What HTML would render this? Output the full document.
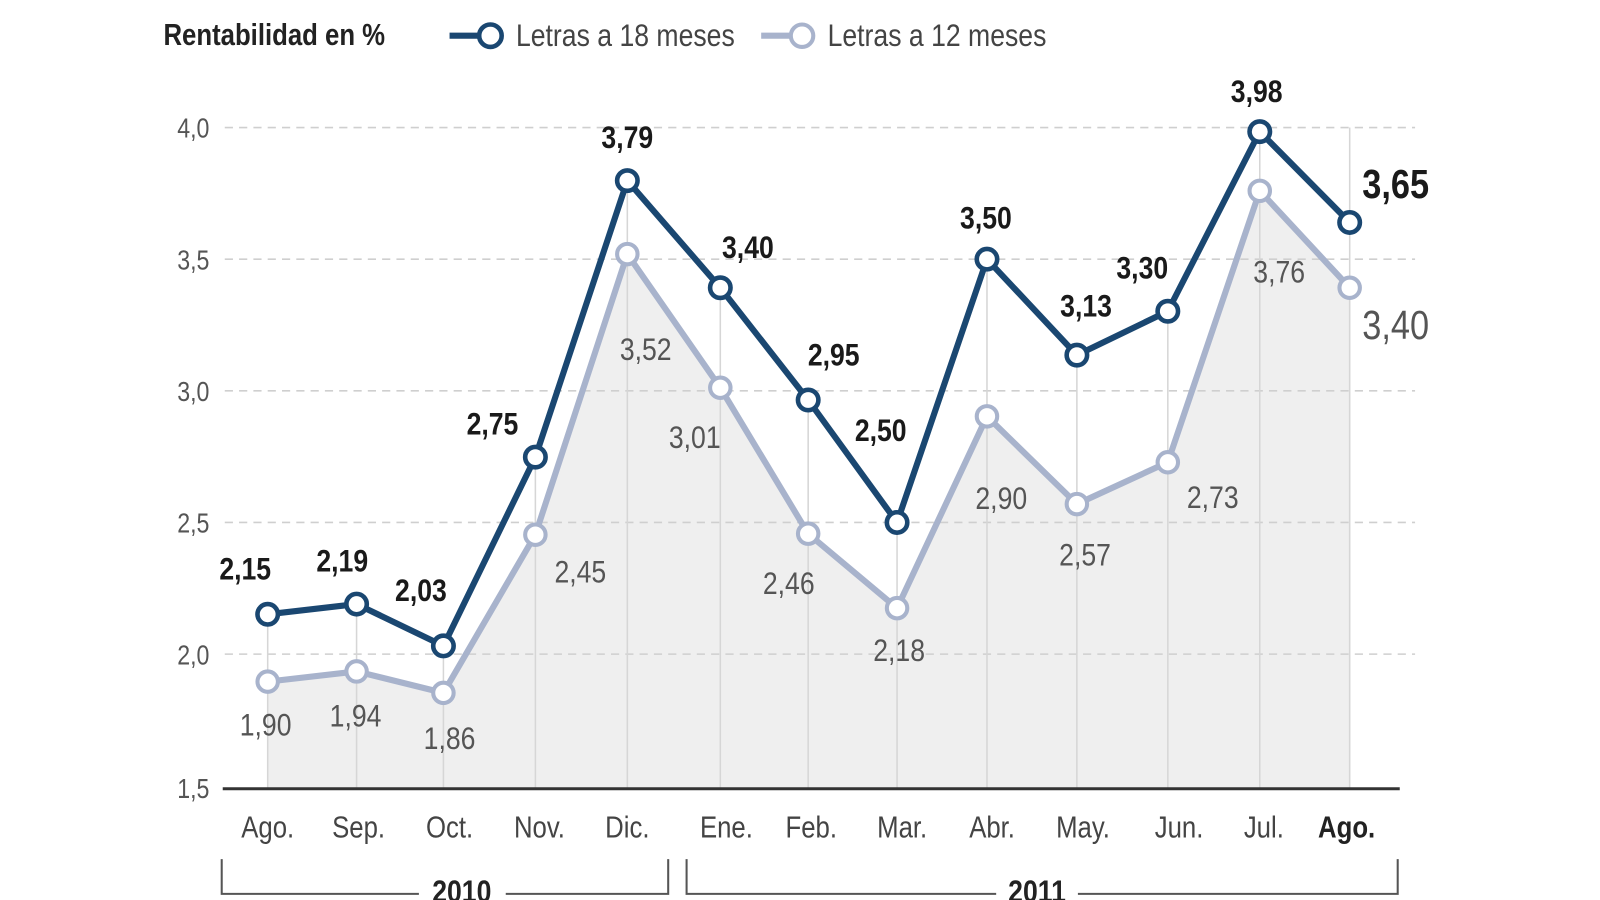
<!DOCTYPE html>
<html><head><meta charset="utf-8"><style>
html,body{margin:0;padding:0;background:#fff;}
svg{display:block;}
text{font-family:"Liberation Sans Narrow","Liberation Sans",sans-serif;transform-box:fill-box;transform-origin:center;transform:scaleX(0.84);}
text.l{transform-origin:left center;}
text.r{transform-origin:right center;}
</style></head><body>
<svg width="1600" height="900" viewBox="0 0 1566 882" preserveAspectRatio="none" xmlns="http://www.w3.org/2000/svg">
<polygon fill="#efefef" points="262,772 262,668 349,658 434,679 524,524 614,249 705,380 791,523 878,596 966,408 1054,494 1143,453 1233,187 1321,282 1321,772"/>
<g stroke="#cfcfcf" stroke-width="1.5" stroke-dasharray="8,6">
<line x1="220" y1="125" x2="1385" y2="125"/>
<line x1="220" y1="254" x2="1385" y2="254"/>
<line x1="220" y1="383" x2="1385" y2="383"/>
<line x1="220" y1="512" x2="1385" y2="512"/>
<line x1="220" y1="641" x2="1385" y2="641"/>
</g>
<g stroke="#d6d6d6" stroke-width="1.5">
<line x1="262" y1="602" x2="262" y2="772"/><line x1="349" y1="592" x2="349" y2="772"/>
<line x1="434" y1="633" x2="434" y2="772"/><line x1="524" y1="448" x2="524" y2="772"/>
<line x1="614" y1="177" x2="614" y2="772"/><line x1="705" y1="282" x2="705" y2="772"/>
<line x1="791" y1="392" x2="791" y2="772"/><line x1="878" y1="512" x2="878" y2="772"/>
<line x1="966" y1="254" x2="966" y2="772"/><line x1="1054" y1="348" x2="1054" y2="772"/>
<line x1="1143" y1="305" x2="1143" y2="772"/><line x1="1233" y1="129" x2="1233" y2="772"/>
<line x1="1321" y1="125" x2="1321" y2="772"/>
</g>
<line x1="218" y1="773" x2="1370" y2="773" stroke="#333" stroke-width="3"/>
<g font-size="27" fill="#555" text-anchor="end">
<text class="r" x="205" y="135">4,0</text><text class="r" x="205" y="264">3,5</text><text class="r" x="205" y="393">3,0</text>
<text class="r" x="205" y="522">2,5</text><text class="r" x="205" y="651">2,0</text><text class="r" x="205" y="782">1,5</text>
</g>
<polyline fill="none" stroke="#a8b3cc" stroke-width="6" stroke-linejoin="round" points="262,668 349,658 434,679 524,524 614,249 705,380 791,523 878,596 966,408 1054,494 1143,453 1233,187 1321,282"/>
<g fill="#fff" stroke="#a8b3cc" stroke-width="4">
<circle cx="262" cy="668" r="10"/><circle cx="349" cy="658" r="10"/><circle cx="434" cy="679" r="10"/><circle cx="524" cy="524" r="10"/><circle cx="614" cy="249" r="10"/><circle cx="705" cy="380" r="10"/><circle cx="791" cy="523" r="10"/><circle cx="878" cy="596" r="10"/><circle cx="966" cy="408" r="10"/><circle cx="1054" cy="494" r="10"/><circle cx="1143" cy="453" r="10"/><circle cx="1233" cy="187" r="10"/><circle cx="1321" cy="282" r="10"/>
</g>
<polyline fill="none" stroke="#1a4771" stroke-width="6" stroke-linejoin="round" points="262,602 349,592 434,633 524,448 614,177 705,282 791,392 878,512 966,254 1054,348 1143,305 1233,129 1321,218"/>
<g fill="#fff" stroke="#1a4771" stroke-width="4.5">
<circle cx="262" cy="602" r="10"/><circle cx="349" cy="592" r="10"/><circle cx="434" cy="633" r="10"/><circle cx="524" cy="448" r="10"/><circle cx="614" cy="177" r="10"/><circle cx="705" cy="282" r="10"/><circle cx="791" cy="392" r="10"/><circle cx="878" cy="512" r="10"/><circle cx="966" cy="254" r="10"/><circle cx="1054" cy="348" r="10"/><circle cx="1143" cy="305" r="10"/><circle cx="1233" cy="129" r="10"/><circle cx="1321" cy="218" r="10"/>
</g>
<g font-size="31" font-weight="bold" fill="#1a1a1a" text-anchor="middle">
<text x="240" y="568">2,15</text><text x="335" y="560">2,19</text><text x="412" y="589">2,03</text>
<text x="482" y="426">2,75</text><text x="614" y="145">3,79</text><text x="732" y="253">3,40</text>
<text x="816" y="358">2,95</text><text x="862" y="432">2,50</text><text x="965" y="224">3,50</text>
<text x="1063" y="310">3,13</text><text x="1118" y="273">3,30</text><text x="1230" y="100">3,98</text>
<text x="1366" y="194" font-size="40">3,65</text>
</g>
<g font-size="31" fill="#555" text-anchor="middle">
<text x="260" y="721">1,90</text><text x="348" y="712">1,94</text><text x="440" y="734">1,86</text>
<text x="568" y="571">2,45</text><text x="632" y="353">3,52</text><text x="680" y="439">3,01</text>
<text x="772" y="582">2,46</text><text x="880" y="648">2,18</text><text x="980" y="499">2,90</text>
<text x="1062" y="554">2,57</text><text x="1187" y="498">2,73</text><text x="1252" y="277">3,76</text>
<text x="1366" y="332" font-size="40">3,40</text>
</g>
<g font-size="30" fill="#444" text-anchor="middle">
<text x="262" y="821">Ago.</text><text x="351" y="821">Sep.</text><text x="440" y="821">Oct.</text>
<text x="528" y="821">Nov.</text><text x="614" y="821">Dic.</text><text x="711" y="821">Ene.</text>
<text x="794" y="821">Feb.</text><text x="883" y="821">Mar.</text><text x="971" y="821">Abr.</text>
<text x="1060" y="821">May.</text><text x="1154" y="821">Jun.</text><text x="1237" y="821">Jul.</text>
<text x="1318" y="821" font-weight="bold" fill="#222">Ago.</text>
</g>
<g stroke="#555" stroke-width="2" fill="none">
<polyline points="217,842 217,876 410,876"/><polyline points="495,876 654,876 654,842"/>
<polyline points="672,842 672,876 975,876"/><polyline points="1055,876 1368,876 1368,842"/>
</g>
<g font-size="31" font-weight="bold" fill="#222" text-anchor="middle">
<text x="452" y="884">2010</text><text x="1015" y="884">2011</text>
</g>
<text class="l" x="160" y="44" font-size="30" font-weight="bold" fill="#222">Rentabilidad en %</text>
<line x1="440" y1="35" x2="480" y2="35" stroke="#1a4771" stroke-width="6"/>
<circle cx="480" cy="35" r="11" fill="#fff" stroke="#1a4771" stroke-width="4.5"/>
<text class="l" x="505" y="45" font-size="31" fill="#444">Letras a 18 meses</text>
<line x1="745" y1="35" x2="785" y2="35" stroke="#a8b3cc" stroke-width="6"/>
<circle cx="785" cy="35" r="11" fill="#fff" stroke="#a8b3cc" stroke-width="4"/>
<text class="l" x="810" y="45" font-size="31" fill="#444">Letras a 12 meses</text>
</svg>
</body></html>
